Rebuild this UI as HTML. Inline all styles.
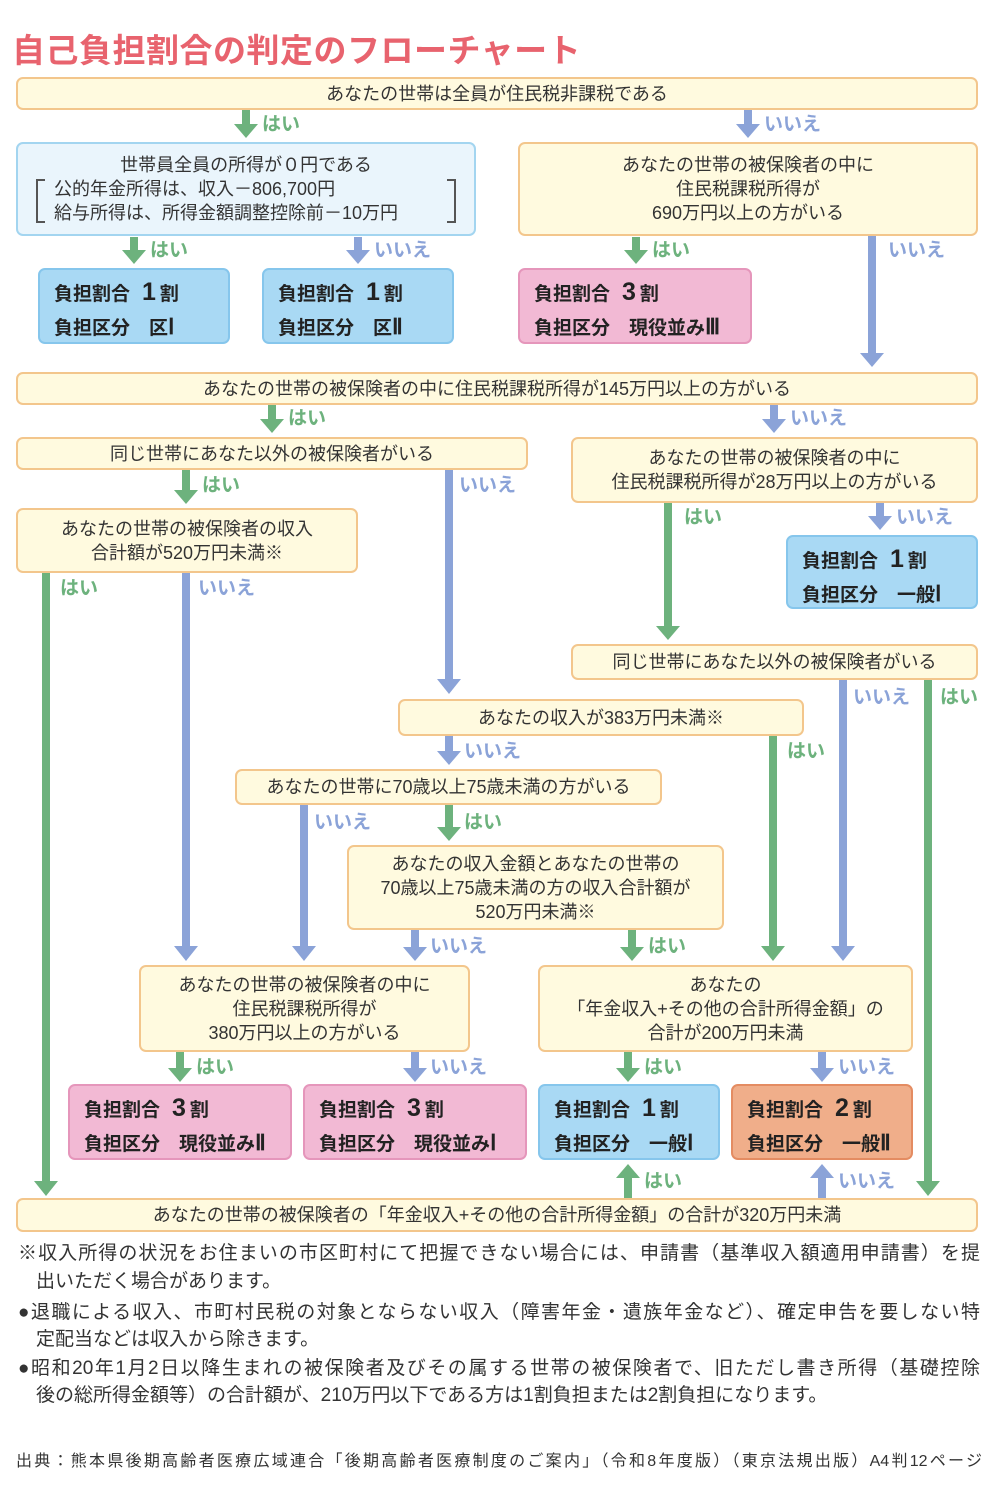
<!DOCTYPE html>
<html><head><meta charset="utf-8">
<style>
body{margin:0;background:#fff;}
#c{position:relative;width:1000px;height:1500px;overflow:hidden;font-family:"Liberation Sans","Noto Sans CJK JP",sans-serif;color:#333;}
.b{position:absolute;box-sizing:border-box;border:2px solid #f3c68c;background:#fffadf;border-radius:7px;display:flex;flex-direction:column;justify-content:center;align-items:center;text-align:center;font-size:18px;line-height:24px;}
.bl{background:#eaf5fc;border-color:#a3d5f0;}
.r{position:absolute;box-sizing:border-box;border-radius:7px;border:2px solid #86c6ec;background:#a9d9f4;font-weight:bold;font-size:19px;line-height:32px;padding:6px 0 0 14px;color:#222;}
.r b{font-size:25px;margin:0 4px 0 12px;}
.r i{font-style:normal;font-family:"Liberation Serif",serif;font-size:22px;}
.pk{background:#f2b9d4;border-color:#e596bb;}
.or{background:#f0ae8a;border-color:#e48c62;}
.l{position:absolute;font-size:19px;font-weight:bold;line-height:20px;}
.g{color:#6db27d;}.u{color:#8ba3d8;}
.n{position:absolute;left:18px;width:962px;font-size:19px;line-height:28px;text-align:justify;text-align-last:justify;white-space:nowrap;}
.br{position:absolute;top:2px;bottom:2px;width:7px;border:2px solid #555;}
</style></head><body><div id="c">
<div style="position:absolute;left:12px;top:24px;font-size:33px;font-weight:bold;color:#e8636e;letter-spacing:0.5px;">自己負担割合の判定のフローチャート</div>

<svg width="1000" height="1500" style="position:absolute;left:0;top:0">
<g fill="#6db27d">
<rect x="242" y="110" width="8" height="16"/><polygon points="234,124 258,124 246,138"/>
<rect x="130" y="237" width="8" height="15"/><polygon points="122,250 146,250 134,264"/>
<rect x="632" y="237" width="8" height="15"/><polygon points="624,250 648,250 636,264"/>
<rect x="268" y="405" width="8" height="16"/><polygon points="260,419 284,419 272,433"/>
<rect x="182" y="470" width="8" height="22"/><polygon points="174,490 198,490 186,504"/>
<rect x="42" y="573" width="8" height="610"/><polygon points="34,1181 58,1181 46,1196"/>
<rect x="664" y="503" width="8" height="125"/><polygon points="656,626 680,626 668,640"/>
<rect x="924" y="680" width="8" height="503"/><polygon points="916,1181 940,1181 928,1196"/>
<rect x="769" y="736" width="8" height="212"/><polygon points="761,946 785,946 773,961"/>
<rect x="445" y="805" width="8" height="24"/><polygon points="437,827 461,827 449,841"/>
<rect x="628" y="930" width="8" height="19"/><polygon points="620,947 644,947 632,961"/>
<rect x="176" y="1052" width="8" height="18"/><polygon points="168,1068 192,1068 180,1082"/>
<rect x="624" y="1052" width="8" height="18"/><polygon points="616,1068 640,1068 628,1082"/>
<rect x="624" y="1176" width="8" height="22"/><polygon points="616,1178 640,1178 628,1164"/>
</g>
<g fill="#8ba3d8">
<rect x="744" y="110" width="8" height="16"/><polygon points="736,124 760,124 748,138"/>
<rect x="354" y="237" width="8" height="15"/><polygon points="346,250 370,250 358,264"/>
<rect x="868" y="236" width="8" height="119"/><polygon points="860,353 884,353 872,367"/>
<rect x="770" y="405" width="8" height="16"/><polygon points="762,419 786,419 774,433"/>
<rect x="445" y="470" width="8" height="211"/><polygon points="437,679 461,679 449,694"/>
<rect x="182" y="573" width="8" height="375"/><polygon points="174,946 198,946 186,961"/>
<rect x="876" y="503" width="8" height="15"/><polygon points="868,516 892,516 880,530"/>
<rect x="839" y="680" width="8" height="268"/><polygon points="831,946 855,946 843,961"/>
<rect x="445" y="736" width="8" height="17"/><polygon points="437,751 461,751 449,765"/>
<rect x="300" y="805" width="8" height="143"/><polygon points="292,946 316,946 304,961"/>
<rect x="411" y="930" width="8" height="19"/><polygon points="403,947 427,947 415,961"/>
<rect x="411" y="1052" width="8" height="18"/><polygon points="403,1068 427,1068 415,1082"/>
<rect x="818" y="1052" width="8" height="18"/><polygon points="810,1068 834,1068 822,1082"/>
<rect x="818" y="1176" width="8" height="22"/><polygon points="810,1178 834,1178 822,1164"/>
</g>
</svg>

<div class="b" style="left:16px;top:77px;width:962px;height:33px;">あなたの世帯は全員が住民税非課税である</div>
<div class="l g" style="left:262px;top:115px">はい</div>
<div class="l u" style="left:764px;top:115px">いいえ</div>

<div class="b bl" style="left:16px;top:142px;width:460px;height:94px;">世帯員全員の所得が０円である<span style="position:relative;display:block;width:420px;text-align:left;padding-left:18px;box-sizing:border-box;"><span class="br" style="left:0;border-right:none;"></span><span class="br" style="right:0;border-left:none;"></span>公的年金所得は、収入－806,700円<br>給与所得は、所得金額調整控除前－10万円</span></div>
<div class="b" style="left:518px;top:142px;width:460px;height:94px;">あなたの世帯の被保険者の中に<br>住民税課税所得が<br>690万円以上の方がいる</div>

<div class="l g" style="left:150px;top:241px">はい</div>
<div class="l u" style="left:374px;top:241px">いいえ</div>
<div class="l g" style="left:652px;top:241px">はい</div>
<div class="l u" style="left:888px;top:241px">いいえ</div>

<div class="r" style="left:38px;top:268px;width:192px;height:76px;">負担割合<b>1</b>割<br>負担区分　区<i>Ⅰ</i></div>
<div class="r" style="left:262px;top:268px;width:192px;height:76px;">負担割合<b>1</b>割<br>負担区分　区<i>Ⅱ</i></div>
<div class="r pk" style="left:518px;top:268px;width:234px;height:76px;">負担割合<b>3</b>割<br>負担区分　現役並み<i>Ⅲ</i></div>

<div class="b" style="left:16px;top:372px;width:962px;height:33px;">あなたの世帯の被保険者の中に住民税課税所得が145万円以上の方がいる</div>
<div class="l g" style="left:288px;top:409px">はい</div>
<div class="l u" style="left:790px;top:409px">いいえ</div>

<div class="b" style="left:16px;top:437px;width:512px;height:33px;">同じ世帯にあなた以外の被保険者がいる</div>
<div class="b" style="left:571px;top:437px;width:407px;height:66px;">あなたの世帯の被保険者の中に<br>住民税課税所得が28万円以上の方がいる</div>
<div class="l g" style="left:202px;top:476px">はい</div>
<div class="l u" style="left:459px;top:476px">いいえ</div>
<div class="l g" style="left:684px;top:508px">はい</div>
<div class="l u" style="left:896px;top:508px">いいえ</div>

<div class="b" style="left:16px;top:508px;width:342px;height:65px;">あなたの世帯の被保険者の収入<br>合計額が520万円未満※</div>
<div class="l g" style="left:60px;top:579px">はい</div>
<div class="l u" style="left:198px;top:579px">いいえ</div>

<div class="r" style="left:786px;top:535px;width:192px;height:74px;">負担割合<b>1</b>割<br>負担区分　一般<i>Ⅰ</i></div>

<div class="b" style="left:571px;top:644px;width:407px;height:36px;">同じ世帯にあなた以外の被保険者がいる</div>
<div class="l u" style="left:853px;top:688px">いいえ</div>
<div class="l g" style="left:940px;top:688px">はい</div>

<div class="b" style="left:398px;top:699px;width:406px;height:37px;">あなたの収入が383万円未満※</div>
<div class="l u" style="left:464px;top:742px">いいえ</div>
<div class="l g" style="left:787px;top:742px">はい</div>

<div class="b" style="left:235px;top:769px;width:427px;height:36px;">あなたの世帯に70歳以上75歳未満の方がいる</div>
<div class="l u" style="left:314px;top:813px">いいえ</div>
<div class="l g" style="left:464px;top:813px">はい</div>

<div class="b" style="left:347px;top:845px;width:377px;height:85px;">あなたの収入金額とあなたの世帯の<br>70歳以上75歳未満の方の収入合計額が<br>520万円未満※</div>
<div class="l u" style="left:430px;top:937px">いいえ</div>
<div class="l g" style="left:648px;top:937px">はい</div>

<div class="b" style="left:139px;top:965px;width:331px;height:87px;">あなたの世帯の被保険者の中に<br>住民税課税所得が<br>380万円以上の方がいる</div>
<div class="b" style="left:538px;top:965px;width:375px;height:87px;">あなたの<br>「年金収入+その他の合計所得金額」の<br>合計が200万円未満</div>
<div class="l g" style="left:196px;top:1058px">はい</div>
<div class="l u" style="left:430px;top:1058px">いいえ</div>
<div class="l g" style="left:644px;top:1058px">はい</div>
<div class="l u" style="left:838px;top:1058px">いいえ</div>

<div class="r pk" style="left:68px;top:1084px;width:224px;height:76px;">負担割合<b>3</b>割<br>負担区分　現役並み<i>Ⅱ</i></div>
<div class="r pk" style="left:303px;top:1084px;width:224px;height:76px;">負担割合<b>3</b>割<br>負担区分　現役並み<i>Ⅰ</i></div>
<div class="r" style="left:538px;top:1084px;width:182px;height:76px;">負担割合<b>1</b>割<br>負担区分　一般<i>Ⅰ</i></div>
<div class="r or" style="left:731px;top:1084px;width:182px;height:76px;">負担割合<b>2</b>割<br>負担区分　一般<i>Ⅱ</i></div>

<div class="l g" style="left:644px;top:1172px">はい</div>
<div class="l u" style="left:838px;top:1172px">いいえ</div>

<div class="b" style="left:16px;top:1198px;width:962px;height:34px;">あなたの世帯の被保険者の「年金収入+その他の合計所得金額」の合計が320万円未満</div>

<div class="n" style="top:1240px;">※収入所得の状況をお住まいの市区町村にて把握できない場合には、申請書（基準収入額適用申請書）を提</div>
<div class="n" style="top:1268px;left:36px;width:auto;text-align:left;text-align-last:auto">出いただく場合があります。</div>
<div class="n" style="top:1299px;">●退職による収入、市町村民税の対象とならない収入（障害年金・遺族年金など）、確定申告を要しない特</div>
<div class="n" style="top:1326px;left:36px;width:auto;text-align:left;text-align-last:auto">定配当などは収入から除きます。</div>
<div class="n" style="top:1355px;">●昭和20年1月2日以降生まれの被保険者及びその属する世帯の被保険者で、旧ただし書き所得（基礎控除</div>
<div class="n" style="top:1382px;left:36px;width:auto;text-align:left;text-align-last:auto">後の総所得金額等）の合計額が、210万円以下である方は1割負担または2割負担になります。</div>

<div class="n" style="top:1448px;left:16px;width:966px;font-size:16px;">出典：熊本県後期高齢者医療広域連合「後期高齢者医療制度のご案内」（令和8年度版）（東京法規出版）A4判12ページ</div>
</div></body></html>
